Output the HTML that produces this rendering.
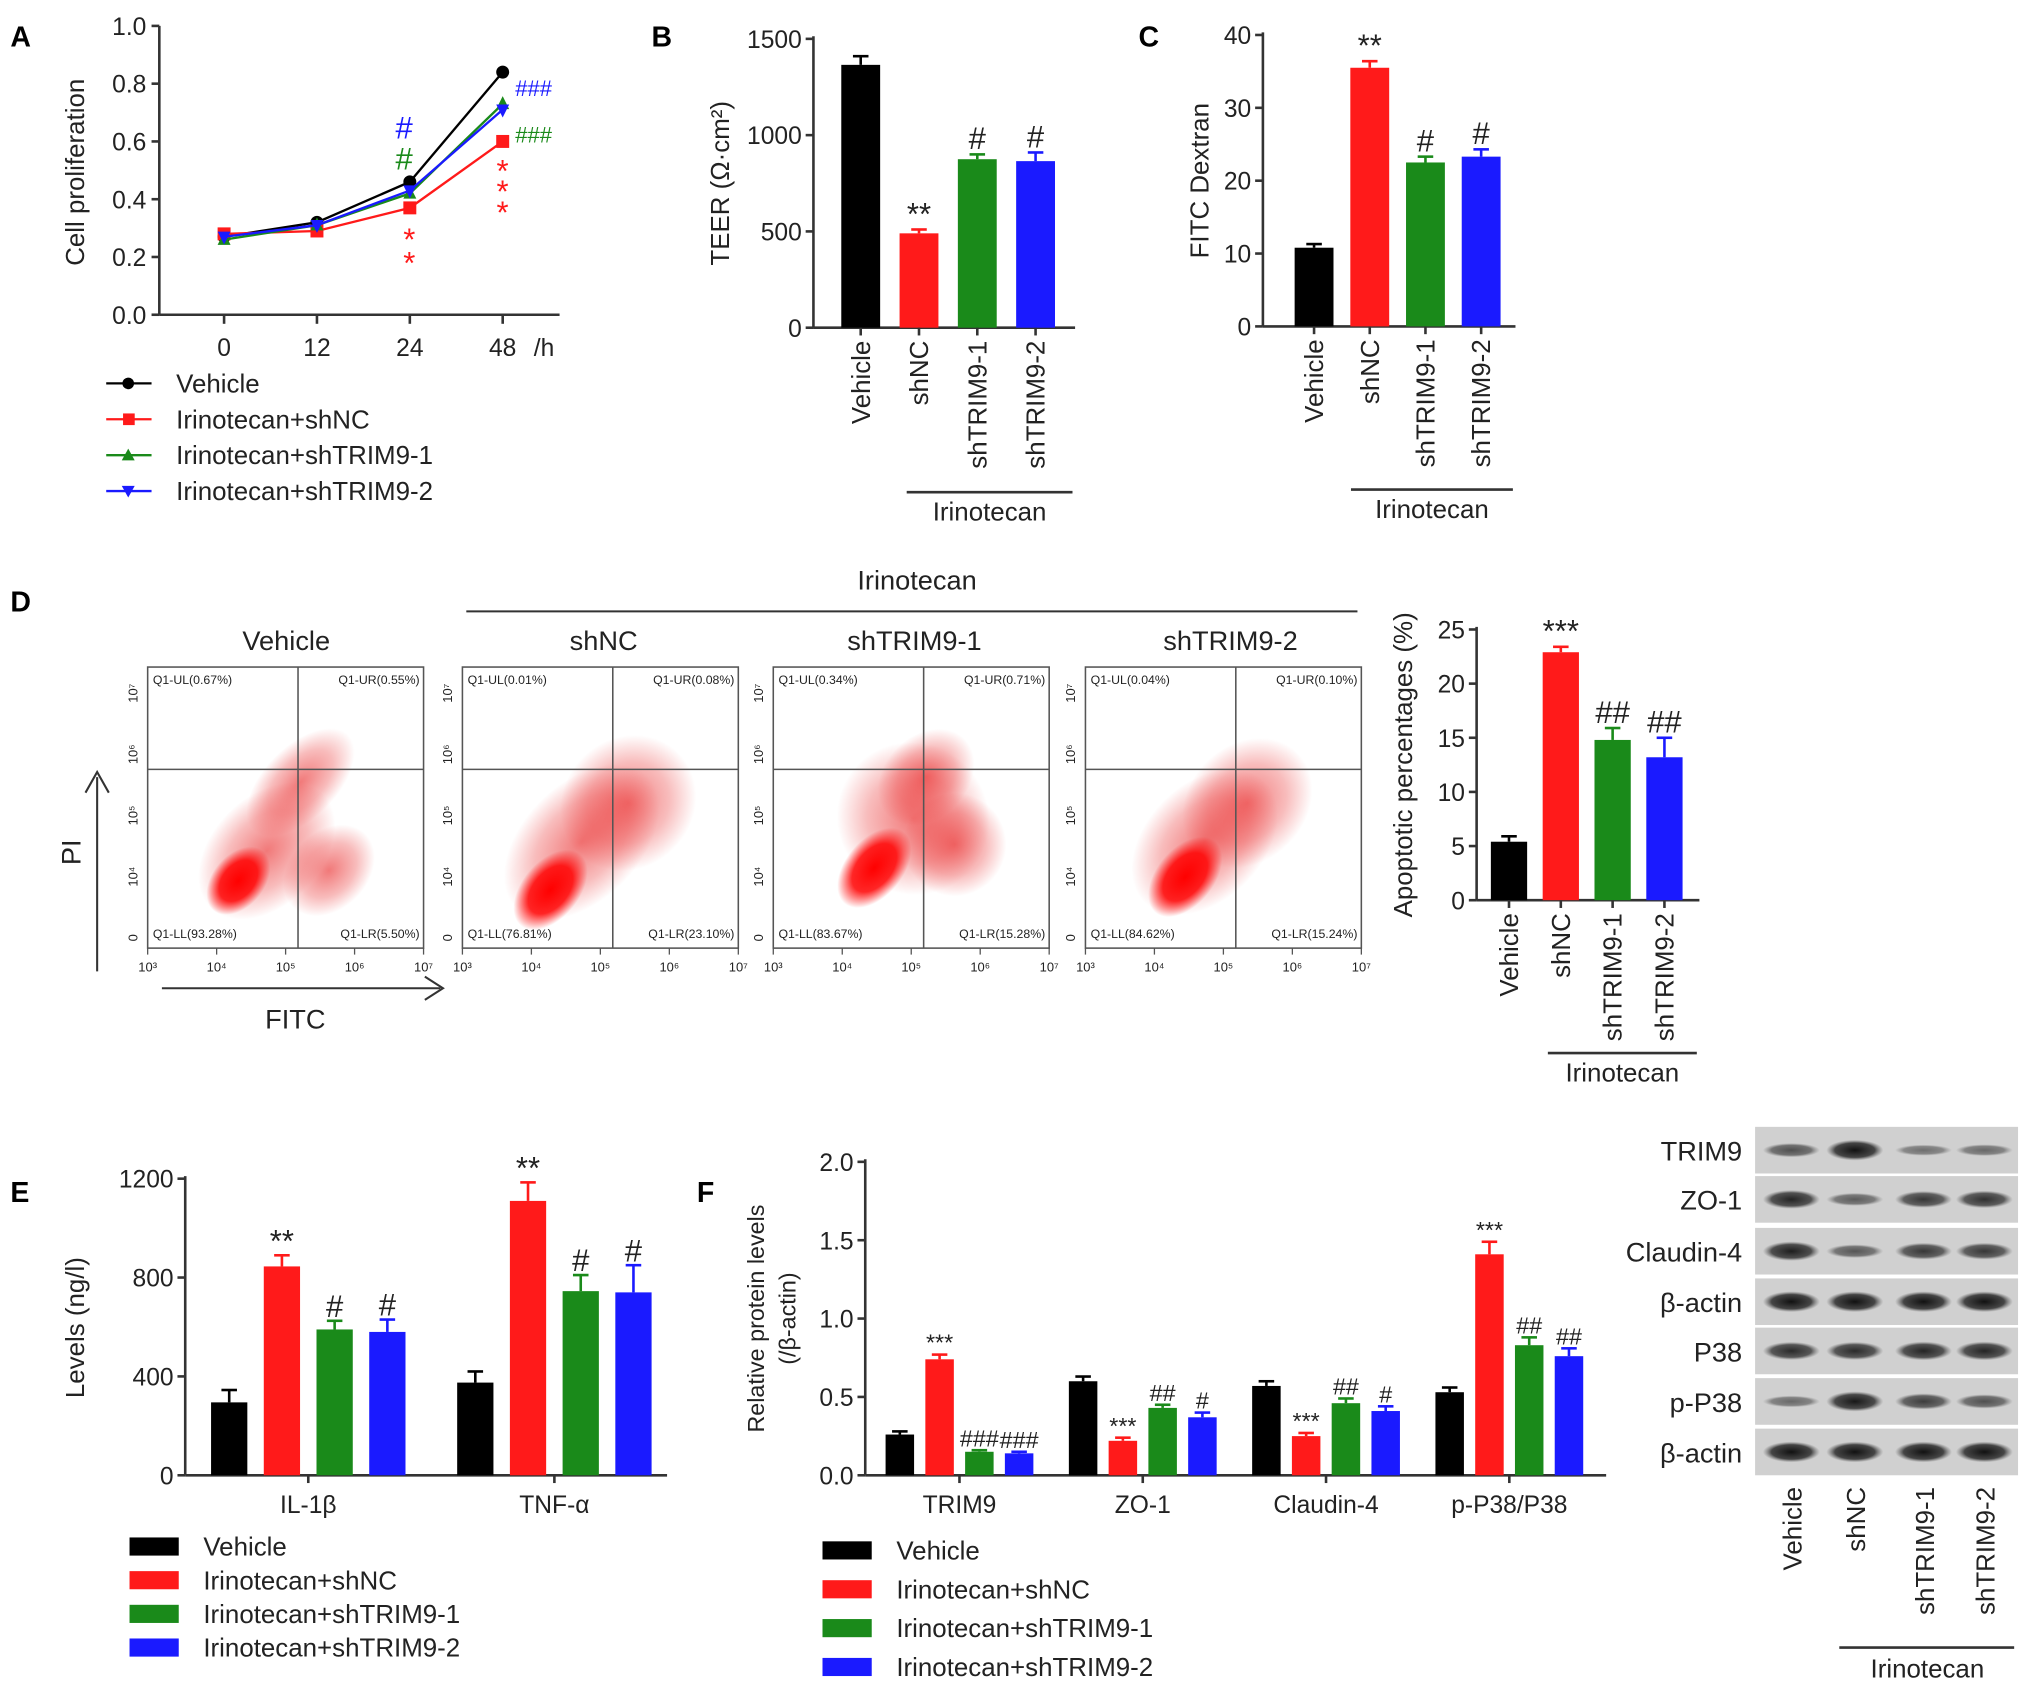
<!DOCTYPE html>
<html><head><meta charset="utf-8"><style>
html,body{margin:0;padding:0;background:#fff;}
svg{display:block;font-family:"Liberation Sans",Arial,sans-serif;}
</style></head><body>
<svg id="fig" width="2031" height="1689" viewBox="0 0 1568 1304" preserveAspectRatio="none" xmlns="http://www.w3.org/2000/svg">
<defs>
<radialGradient id="core"><stop offset="0" stop-color="#ff0000" stop-opacity="1"/><stop offset="0.6" stop-color="#ff0000" stop-opacity="0.85"/><stop offset="1" stop-color="#ff0000" stop-opacity="0"/></radialGradient>
<radialGradient id="halo"><stop offset="0" stop-color="#e82020" stop-opacity="0.6"/><stop offset="0.6" stop-color="#e82020" stop-opacity="0.3"/><stop offset="1" stop-color="#e82020" stop-opacity="0"/></radialGradient>
<radialGradient id="band"><stop offset="0" stop-color="#111" stop-opacity="1"/><stop offset="0.7" stop-color="#222" stop-opacity="0.8"/><stop offset="1" stop-color="#555" stop-opacity="0"/></radialGradient>
</defs>
</svg>
<script>
// ---------- DATA ----------
const timeLabels = ["0","12","24","48"];
const seriesNames = ["Vehicle","Irinotecan+shNC","Irinotecan+shTRIM9-1","Irinotecan+shTRIM9-2"];
const colors = ["#000000","#ff1a1a","#1a8a1a","#1a1aff"];
const aVehicle = [0.27,0.32,0.46,0.84];
const aShNC = [0.28,0.29,0.37,0.60];
const aSh1 = [0.26,0.31,0.42,0.73];
const aSh2 = [0.27,0.31,0.43,0.71];
const aTicks = ["0.0","0.2","0.4","0.6","0.8","1.0"];
const groupCats = ["Vehicle","shNC","shTRIM9-1","shTRIM9-2"];
const teerVals = [1365,490,875,865];
const teerErr = [45,20,25,45];
const teerTicks = [0,500,1000,1500];
const teerMarks = ["","**","#","#"];
const fitcVals = [10.8,35.5,22.5,23.3];
const fitcErr = [0.5,0.9,0.8,1.0];
const fitcTicks = [0,10,20,30,40];
const fitcMarks = ["","**","#","#"];
const apoVals = [5.4,22.9,14.8,13.2];
const apoErr = [0.5,0.5,1.1,1.8];
const apoTicks = [0,5,10,15,20,25];
const apoMarks = ["","***","##","##"];
const eCats = ["IL-1β","TNF-α"];
const eVals = [[295,845,590,580],[375,1110,745,740]];
const eErr = [[50,45,35,50],[45,75,65,110]];
const eMarks = [["","**","#","#"],["","**","#","#"]];
const eTicks = [0,400,800,1200];
const fCats = ["TRIM9","ZO-1","Claudin-4","p-P38/P38"];
const fVals = [[0.26,0.74,0.15,0.14],[0.60,0.22,0.43,0.37],[0.57,0.25,0.46,0.41],[0.53,1.41,0.83,0.76]];
const fErr = [[0.02,0.03,0.01,0.01],[0.03,0.02,0.02,0.03],[0.03,0.02,0.03,0.03],[0.03,0.08,0.05,0.05]];
const fMarks = [["","***","###","###"],["","***","##","#"],["","***","##","#"],["","***","##","##"]];
const fTicks = ["0.0","0.5","1.0","1.5","2.0"];
const flowTitles = ["Vehicle","shNC","shTRIM9-1","shTRIM9-2"];
const flowUL = ["Q1-UL(0.67%)","Q1-UL(0.01%)","Q1-UL(0.34%)","Q1-UL(0.04%)"];
const flowUR = ["Q1-UR(0.55%)","Q1-UR(0.08%)","Q1-UR(0.71%)","Q1-UR(0.10%)"];
const flowLL = ["Q1-LL(93.28%)","Q1-LL(76.81%)","Q1-LL(83.67%)","Q1-LL(84.62%)"];
const flowLR = ["Q1-LR(5.50%)","Q1-LR(23.10%)","Q1-LR(15.28%)","Q1-LR(15.24%)"];
const blotRows = ["TRIM9","ZO-1","Claudin-4","β-actin","P38","p-P38","β-actin"];
const blotInt = [[0.5,1,0.25,0.3],[0.85,0.4,0.7,0.75],[0.9,0.45,0.7,0.7],[1,1,1,1],[0.8,0.8,0.85,0.85],[0.3,0.95,0.65,0.5],[1,1,1,1]];

// ---------- HELPERS ----------
const svg = document.getElementById('fig');
const NS = "http://www.w3.org/2000/svg";
function mk(tag, attrs, parent){
  const e = document.createElementNS(NS, tag);
  for (const k in attrs) e.setAttribute(k, attrs[k]);
  (parent||svg).appendChild(e);
  return e;
}
function txt(x,y,s,size,opts){
  opts = opts||{};
  const e = mk('text',{x:x,y:y,'font-size':size,'text-anchor':opts.anchor||'middle',fill:opts.fill||'#222','font-weight':opts.bold?'bold':'normal'});
  if (opts.rot) e.setAttribute('transform','rotate(-90 '+x+' '+y+')');
  e.textContent = s;
  return e;
}
function line(x1,y1,x2,y2,w,c){
  return mk('line',{x1:x1,y1:y1,x2:x2,y2:y2,stroke:c||'#333','stroke-width':w||2});
}
function letter(x,y,s){
  const t = txt(x,y,s,22,{bold:true,anchor:'start',fill:'#000'});
  
  
}

// ---------- PANEL A ----------
letter(8,36,"A");
(function(){
  const x0=123, yTop=20, yBot=243;
  const y = v => yBot - v*(yBot-yTop);
  const x = i => 173 + i*71.7;
  const ax = line(x0,yTop,x0,yBot,2);
  
  
  const bx = line(x0,yBot,432,yBot,2);
  
  
  aTicks.forEach((t,i)=>{
    const v=parseFloat(t);
    line(x0-6,y(v),x0,y(v),2);
    const tl = txt(x0-10,y(v)+7,t,19,{anchor:'end'});
    
    
  });
  timeLabels.forEach((t,i)=>{
    line(x(i),yBot,x(i),yBot+7,2);
    const tl = txt(x(i),275,t,19);
    
    
  });
  txt(420,275,"/h",19);
  const yt = txt(65,133,"Cell proliferation",20,{rot:true});
  
  
  const all=[aVehicle,aShNC,aSh1,aSh2];
  all.forEach((s,si)=>{
    const pts = s.map((v,i)=>x(i)+','+y(v)).join(' ');
    const pl = mk('polyline',{points:pts,fill:'none',stroke:colors[si],'stroke-width':1.8});
    
    
    s.forEach((v,i)=>{
      let m;
      if(si===0) m=mk('circle',{cx:x(i),cy:y(v),r:5,fill:colors[si]});
      else if(si===1) m=mk('rect',{x:x(i)-5,y:y(v)-5,width:10,height:10,fill:colors[si]});
      else if(si===2) m=mk('polygon',{points:`${x(i)},${y(v)-6} ${x(i)-5},${y(v)+4} ${x(i)+5},${y(v)+4}`,fill:colors[si]});
      else m=mk('polygon',{points:`${x(i)},${y(v)+6} ${x(i)-5},${y(v)-4} ${x(i)+5},${y(v)-4}`,fill:colors[si]});
      
      
    });
  });
  txt(312,107,"#",24,{fill:colors[3]});
  txt(312,131,"#",24,{fill:colors[2]});
  txt(316,193,"*",24,{fill:colors[1]});
  txt(316,211,"*",24,{fill:colors[1]});
  txt(412,74,"###",17,{fill:colors[3]});
  txt(412,110,"###",17,{fill:colors[2]});
  txt(388,140,"*",24,{fill:colors[1]});
  txt(388,156,"*",24,{fill:colors[1]});
  txt(388,172,"*",24,{fill:colors[1]});
  seriesNames.forEach((n,i)=>{
    const yy = 296 + i*27.7;
    line(82,yy,117,yy,1.8,colors[i]);
    let m;
    if(i===0) m=mk('circle',{cx:99,cy:yy,r:4.5,fill:colors[i]});
    else if(i===1) m=mk('rect',{x:95,y:yy-4.5,width:9,height:9,fill:colors[i]});
    else if(i===2) m=mk('polygon',{points:`99,${yy-5} 94,${yy+4} 104,${yy+4}`,fill:colors[i]});
    else m=mk('polygon',{points:`99,${yy+5} 94,${yy-4} 104,${yy-4}`,fill:colors[i]});
    
    
    const t = txt(136,yy+7,n,20,{anchor:'start'});
    
    
  });
})();

// ---------- Generic single bar chart ----------
function barChart(p, vals, errs, ticks, marks, tickFmt){
  const y = v => p.yBot - v/p.max*(p.yBot-p.yTop);
  const x = i => p.x0 + p.pad + p.step*(i+0.5);
  const ax = line(p.x0,p.yTop-2,p.x0,p.yBot,2);
  
  
  const bx = line(p.x0,p.yBot,p.xEnd,p.yBot,2);
  
  
  ticks.forEach(t=>{
    line(p.x0-6,y(t),p.x0,y(t),2);
    const tl = txt(p.x0-9,y(t)+7,tickFmt?tickFmt(t):String(t),19,{anchor:'end'});
    
    
  });
  vals.forEach((v,i)=>{
    const b = mk('rect',{x:x(i)-p.bw/2,y:y(v),width:p.bw,height:p.yBot-y(v),fill:colors[i]});
    
    
    const ye = y(v+errs[i]);
    const e1 = line(x(i),ye,x(i),y(v),2,colors[i]);
    
    
    line(x(i)-6,ye,x(i)+6,ye,2,colors[i]);
    line(x(i),p.yBot,x(i),p.yBot+6,2);
    if(marks[i]){
      const mt = txt(x(i),ye-4,marks[i],24,{fill:'#222'});
      
      
    }
    const cl = txt(x(i)+7,p.yBot+10,groupCats[i],20,{rot:true,anchor:'end'});
    
    
  });
  const br = line(p.brX1,p.brY,p.brX2,p.brY,2);
  
  
  const bt = txt((p.brX1+p.brX2)/2,p.brY+22,"Irinotecan",20);
  
  
  const yt = txt(p.titleX,(p.yTop+p.yBot)/2,p.title,20,{rot:true});
  
  
}
letter(503,36,"B");
barChart({id:'b',x0:628,xEnd:830,yTop:30,yBot:253,max:1500,pad:14,step:45,bw:30,brX1:700,brX2:828,brY:380,titleX:563,title:"TEER (Ω·cm²)"},teerVals,teerErr,teerTicks,teerMarks);
letter(879,36,"C");
barChart({id:'c',x0:975,xEnd:1170,yTop:27,yBot:252,max:40,pad:18,step:43,bw:30,brX1:1043,brX2:1168,brY:378,titleX:933,title:"FITC Dextran"},fitcVals,fitcErr,fitcTicks,fitcMarks);

// ---------- PANEL D ----------
letter(8,472,"D");
(function(){
  const it = txt(708,455,"Irinotecan",21);
  
  
  const il = line(360,472,1048,472,1.6);
  
  
  const lefts=[114,357,597,838];
  const titleX=[221,466,706,950];
  // [cx offset, cy offset from bottom, rx, ry] ; first = core
  const clouds=[
    [[70,-52,30,20],[118,-128,52,28],[92,-75,62,42],[140,-60,40,30]],
    [[68,-45,36,22],[128,-112,55,50],[92,-82,72,45]],
    [[78,-62,36,22],[108,-100,58,60],[118,-132,42,32],[140,-80,40,40]],
    [[77,-55,36,22],[125,-112,55,45],[92,-82,66,45]]
  ];
  lefts.forEach((L,k)=>{
    const W=213, T=515, B=732;
    const tt = txt(titleX[k],502,flowTitles[k],21);
    
    
    const box = mk('rect',{x:L,y:T,width:W,height:B-T,fill:'#fff',stroke:'#555','stroke-width':1.2});
    
    
    clouds[k].forEach((c,ci)=>{
      if(ci===0) return;
      const e = mk('ellipse',{cx:L+c[0],cy:B+c[1],rx:c[2],ry:c[3],fill:'url(#halo)',transform:`rotate(-45 ${L+c[0]} ${B+c[1]})`});
      
      
    });
    const c0=clouds[k][0];
    const core = mk('ellipse',{cx:L+c0[0],cy:B+c0[1],rx:c0[2],ry:c0[3],fill:'url(#core)',transform:`rotate(-50 ${L+c0[0]} ${B+c0[1]})`});
    
    
    line(L+W*0.545,T,L+W*0.545,B,1.2,'#555');
    line(L,594,L+W,594,1.2,'#555');
    txt(L+4,T+13,flowUL[k],9.5,{anchor:'start'});
    txt(L+W-3,T+13,flowUR[k],9.5,{anchor:'end'});
    txt(L+4,B-8,flowLL[k],9.5,{anchor:'start'});
    txt(L+W-3,B-8,flowLR[k],9.5,{anchor:'end'});
    ["10³","10⁴","10⁵","10⁶","10⁷"].forEach((s,i)=>{
      const xx=L+i*W/4;
      line(xx,B,xx,B+5,1,'#555');
      txt(xx,B+18,s,10);
    });
    ["0","10⁴","10⁵","10⁶","10⁷"].forEach((s,i)=>{
      const yy=B-8-i*(B-T-14)/4.3;
      txt(L-8,yy,s,10,{rot:true});
    });
  });
  line(75,600,75,750,1.6);
  mk('polyline',{points:'66,612 75,596 84,612',fill:'none',stroke:'#333','stroke-width':1.6});
  txt(62,658,"PI",21,{rot:true});
  line(125,763,340,763,1.6);
  mk('polyline',{points:'328,754 342,763 328,772',fill:'none',stroke:'#333','stroke-width':1.6});
  txt(228,794,"FITC",21);
})();
barChart({id:'d',x0:1140,xEnd:1312,yTop:486,yBot:695,max:25,pad:5,step:40,bw:28,brX1:1195,brX2:1310,brY:813,titleX:1090,title:"Apoptotic percentages (%)"},apoVals,apoErr,apoTicks,apoMarks);

// ---------- Grouped bar chart ----------
function grouped(p, cats, vals, errs, marks, ticks){
  const y = v => p.yBot - v/p.max*(p.yBot-p.yTop);
  const ax = line(p.x0,p.yTop-2,p.x0,p.yBot,2);
  
  
  const bx = line(p.x0,p.yBot,p.xEnd,p.yBot,2);
  
  
  ticks.forEach(t=>{
    const v=parseFloat(t);
    line(p.x0-6,y(v),p.x0,y(v),2);
    const tl = txt(p.x0-9,y(v)+7,String(t),19,{anchor:'end'});
    
    
  });
  cats.forEach((c,g)=>{
    const gc = p.x0 + p.pad + p.gstep*(g+0.5);
    vals[g].forEach((v,i)=>{
      const cx = gc + (i-1.5)*p.bstep;
      const b = mk('rect',{x:cx-p.bw/2,y:y(v),width:p.bw,height:p.yBot-y(v),fill:colors[i]});
      
      
      const ye = y(v+errs[g][i]);
      line(cx,ye,cx,y(v),2,colors[i]);
      line(cx-6,ye,cx+6,ye,2,colors[i]);
      if(marks[g][i]){
        const mt = txt(cx,ye-3,marks[g][i],p.msize,{fill:'#222'});
        
        
      }
    });
    line(gc,p.yBot,gc,p.yBot+6,2);
    const cl = txt(gc,p.yBot+29,c,19);
    
    
  });
  seriesNames.forEach((n,i)=>{
    const yy = p.legY + i*p.legStep;
    const sw = mk('rect',{x:p.legX,y:yy-7,width:38,height:14,fill:colors[i]});
    
    
    const t = txt(p.legX+57,yy+7,n,20,{anchor:'start'});
    
    
  });
}
letter(8,928,"E");
grouped({id:'e',x0:143,xEnd:515,yTop:910,yBot:1139,max:1200,pad:0,gstep:190,bstep:40.7,bw:28,msize:24,legX:100,legY:1194,legStep:26},eCats,eVals,eErr,eMarks,eTicks);
(function(){const t=txt(65,1025,"Levels (ng/l)",20,{rot:true});})();
letter(538,928,"F");
grouped({id:'f',x0:668,xEnd:1240,yTop:897,yBot:1139,max:2.0,pad:2,gstep:141.5,bstep:30.7,bw:22,msize:18,legX:635,legY:1197,legStep:30},fCats,fVals,fErr,fMarks,fTicks);
(function(){
  const t=txt(590,1018,"Relative protein levels",18,{rot:true});
  const t2=txt(614,1018,"(/β-actin)",18,{rot:true});
})();

// ---------- Western blot ----------
(function(){
  const rowTop=[870,908,948,987,1025,1064,1103];
  const rowH=36;
  const lanes=[1383,1432,1485,1532];
  blotRows.forEach((r,ri)=>{
    const bg = mk('rect',{x:1355,y:rowTop[ri],width:203,height:rowH,fill:'#d0d0d0'});
    
    
    const lb = txt(1345,rowTop[ri]+26,r,21,{anchor:'end'});
    
    
    lanes.forEach((lx,li)=>{
      const v=blotInt[ri][li];
      const b = mk('ellipse',{cx:lx,cy:rowTop[ri]+rowH/2,rx:22,ry:3+v*5,fill:'url(#band)',opacity:0.35+0.65*v});
      
      
    });
  });
  lanes.forEach((lx,li)=>{
    const t = txt(lx+8,1148,groupCats[li],20,{rot:true,anchor:'end'});
    
    
  });
  const br=line(1420,1272,1555,1272,2);
  
  
  const bt=txt(1488,1295,"Irinotecan",20);
  
  
})();
</script>
</body></html>
